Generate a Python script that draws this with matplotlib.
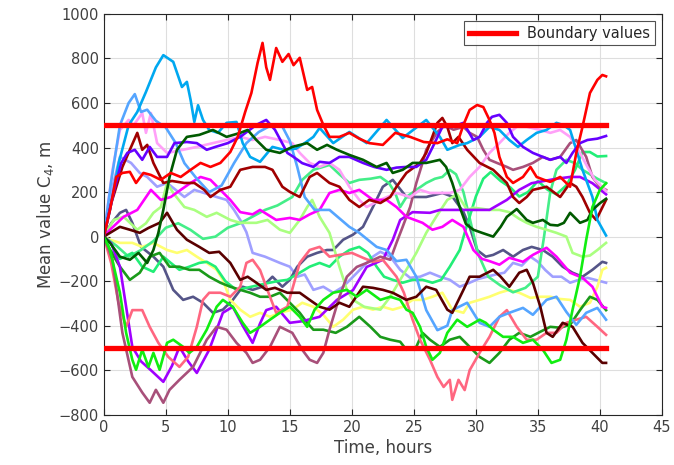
import matplotlib
matplotlib.use("Agg")
import matplotlib.pyplot as plt

# (time in hours, mean value C4 in m) for each run
sky_blue = [(0, 0), (0.5, 120), (1.2, 330), (2, 500), (2.7, 560), (3.4, 650), (4.2, 760), (4.8, 815), (5.6, 785),
            (6.3, 672), (6.7, 695), (7, 614), (7.3, 515), (7.6, 590), (8, 524), (8.5, 479), (9.2, 466), (9.9, 511),
            (10.7, 515), (11.2, 420), (11.8, 358), (12.6, 336), (13.6, 403), (14.5, 390), (15.5, 395), (16.2, 420),
            (16.9, 448), (17.4, 488), (18.5, 420), (19.8, 470), (21.2, 420), (22.8, 524), (24.1, 443), (26, 524),
            (27.1, 448), (27.7, 390), (28.7, 412), (29.3, 420), (30.3, 448), (31.1, 493), (31.9, 479), (32.7, 434),
            (33.4, 403), (34.1, 434), (34.9, 466), (35.7, 479), (36.5, 511), (37.1, 500), (37.6, 479), (38.1, 390),
            (38.6, 300), (39.4, 178), (39.8, 75), (40.5, 5)]

cornflower = [(0, 0), (0.6, 250), (1.3, 500), (2, 600), (2.5, 640), (3, 560), (3.5, 570), (4.2, 520), (5, 490),
              (5.8, 420), (6.5, 330), (7.5, 260), (8.5, 200), (9.5, 230), (10.5, 330), (11.5, 420), (12.5, 470),
              (13.5, 500), (14.3, 505), (15, 430), (15.6, 313), (16.2, 178), (17, 120), (18.2, 120), (19.8, 44),
              (20.6, 17), (22, -46), (22.8, -60), (23.6, -110), (24.4, -104), (25.2, -180), (26, -330), (26.9, -420),
              (27.7, -400), (28.1, -330), (29.3, -297), (30.3, -387), (31.1, -405), (31.9, -360), (32.7, -342),
              (33.8, -320), (34.6, -351), (35.7, -284), (36.5, -270), (37.3, -338), (38.1, -396), (38.9, -342),
              (39.8, -320), (40.5, -373)]

violet = [(0, 0), (0.8, 200), (1.4, 330), (1.9, 376), (2.5, 390), (3.1, 345), (3.7, 403), (4.3, 358), (5.1, 358),
          (5.7, 420), (6.7, 425), (7.5, 420), (8.3, 390), (9, 403), (10, 420), (11, 448), (12.3, 502), (13.1, 524),
          (13.8, 480), (14.8, 376), (15.3, 358), (16, 330), (16.9, 313), (17.4, 336), (18.2, 331), (19, 358),
          (19.8, 358), (20.9, 331), (21.8, 313), (22.8, 300), (23.6, 310), (24.4, 313), (25.2, 313), (26, 345),
          (26.5, 400), (27.3, 493), (28.1, 493), (29, 511), (29.8, 434), (30.3, 448), (30.9, 511), (31.3, 538),
          (31.9, 547), (32.5, 511), (33, 448), (33.8, 403), (34.6, 376), (35.4, 358), (36, 345), (36.8, 358),
          (37.3, 331), (37.8, 376), (38.4, 420), (39, 434), (39.8, 440), (40.5, 452)]

purple = [(0, 0), (0.6, -30), (1.3, -135), (2.3, -495), (3, -560), (3.8, -600), (4.8, -652), (5.5, -580),
          (6.1, -495), (6.8, -560), (7.5, -612), (8.5, -508), (9.6, -342), (10.4, -315), (11.2, -400), (12, -477),
          (12.6, -390), (13.1, -330), (13.9, -315), (15, -387), (16, -380), (17.4, -360), (18.8, -284), (20.1, -240),
          (21.2, -136), (22.5, -104), (23.3, -15), (23.9, 75), (24.9, 110), (26.3, 107), (27.1, 120), (28.7, 120),
          (30, 120), (31.1, 120), (32.5, 165), (33.5, 210), (34.5, 240), (35.5, 250), (36.5, 260), (37.6, 268),
          (38.4, 268), (39.4, 240), (40.5, 190)]

magenta = [(0, 0), (0.5, 31), (1.6, 89), (2.7, 120), (3.8, 210), (4.6, 165), (5.4, 178), (6.2, 210), (7, 241),
           (7.8, 268), (8.6, 255), (9.4, 210), (10.2, 165), (11, 110), (12, 100), (12.6, 120), (13.9, 75), (15, 84),
           (15.8, 75), (16.6, 100), (17.4, 120), (18.2, 196), (19, 210), (19.8, 196), (20.6, 210), (21.7, 165),
           (22.8, 165), (23.6, 133), (24.4, 89), (25.7, 62), (26.5, 31), (27.3, 44), (28.1, 75), (29, 44),
           (29.8, -60), (30.5, -100), (31.1, -110), (31.9, -126), (32.7, -95), (33.8, -113), (34.6, -82),
           (35.7, -50), (36.5, -90), (37.6, -162), (38.6, -185), (39.4, -225), (40.2, -315), (40.5, -320)]

light_pink = [(0, 0), (0.7, 300), (1.3, 479), (2, 524), (2.4, 500), (3.1, 555), (3.4, 466), (3.8, 555), (4.3, 420),
              (5.1, 376), (6.4, 390), (7.5, 403), (8.8, 420), (9.9, 434), (11, 448), (12, 434), (13, 448),
              (14.2, 434), (15.2, 420), (15.8, 376), (16.6, 331), (17.4, 313), (18.2, 331), (19, 300), (19.8, 224),
              (20.6, 165), (21.2, 133), (22.3, 165), (23.6, 196), (24.7, 178), (25.5, 210), (26.3, 196),
              (27.9, 196), (28.7, 210), (29.5, 268), (30.3, 313), (31.1, 376), (31.9, 420), (32.7, 466), (33.3, 493),
              (34.1, 493), (35.2, 479), (36, 466), (36.8, 479), (37.6, 448), (38.4, 376), (39, 313), (39.6, 255),
              (40.5, 205)]

rose = [(0, 0), (0.6, -120), (1.2, -300), (1.8, -405), (2.3, -330), (3.1, -330), (3.7, -405), (4.4, -477),
        (5.2, -540), (6.1, -585), (6.8, -540), (7.5, -405), (8, -284), (8.5, -252), (9.4, -252), (10.2, -270),
        (11, -225), (11.5, -118), (12, -104), (12.6, -150), (13.4, -270), (13.9, -342), (14.8, -315), (15.8, -118),
        (16.6, -60), (17.4, -46), (18.2, -90), (19, -82), (20, -73), (20.9, -95), (21.7, -113), (22.5, -104),
        (23.6, -180), (24.2, -252), (24.9, -373), (25.5, -463), (26.3, -553), (26.9, -630), (27.4, -675),
        (27.9, -643), (28.1, -733), (28.6, -643), (29.1, -689), (29.5, -600), (30.3, -522), (31.1, -450),
        (31.9, -360), (32.5, -330), (33.3, -405), (34.1, -463), (34.9, -463), (35.7, -432), (36.5, -432),
        (37.3, -387), (38.1, -373), (38.9, -360), (39.8, -405), (40.5, -441)]

mauve = [(0, 0), (0.7, -104), (1.5, -432), (2.3, -630), (3.1, -700), (3.7, -746), (4.2, -688), (4.8, -746),
         (5.3, -688), (6.1, -643), (7.2, -585), (8.3, -463), (9.1, -405), (9.9, -418), (10.7, -477), (11.5, -522),
         (12, -567), (12.6, -553), (13.4, -495), (14.2, -405), (15.2, -432), (16, -508), (16.6, -553),
         (17.2, -567), (17.7, -522), (18.2, -418), (19, -270), (19.6, -180), (20.4, -136), (21.2, -118),
         (22.3, -90), (23.1, -104), (23.6, -28), (24.1, 44), (24.7, 133), (25.2, 241), (25.7, 331), (26, 390),
         (26.9, 470), (27.5, 500), (28.2, 480), (29, 493), (29.5, 466), (30.1, 448), (30.6, 390), (31.1, 345),
         (31.7, 331), (32.5, 313), (33, 300), (33.8, 313), (34.6, 331), (35.4, 358), (36, 345), (36.8, 358),
         (37.6, 420), (38.1, 434), (38.9, 358), (39.4, 268), (40, 224), (40.5, 210)]

red = [(0, 0), (0.5, 120), (1, 268), (1.5, 286), (2.1, 291), (2.6, 241), (3.2, 286), (3.8, 277), (4.6, 255),
       (5.4, 286), (6.2, 268), (7, 300), (7.8, 331), (8.6, 313), (9.4, 331), (10.2, 380), (10.8, 448), (11.4, 560),
       (11.9, 645), (12.4, 780), (12.8, 870), (13.1, 760), (13.4, 704), (13.9, 847), (14.4, 785), (14.9, 820),
       (15.3, 770), (15.8, 803), (16.4, 659), (16.8, 672), (17.2, 569), (17.7, 502), (18.2, 448), (19, 448),
       (19.8, 466), (20.6, 440), (21.4, 420), (22.5, 412), (23.5, 466), (24.7, 448), (25.8, 425), (26.9, 420),
       (27.7, 437), (28.5, 420), (29, 502), (29.5, 569), (30.1, 591), (30.6, 582), (31.1, 524), (31.5, 466),
       (31.9, 358), (32.5, 268), (33, 241), (33.8, 268), (34.4, 313), (34.9, 268), (35.5, 255), (36, 246),
       (36.8, 268), (37.6, 224), (38.1, 376), (38.6, 493), (39.2, 645), (39.8, 704), (40.2, 726), (40.5, 720)]

maroon = [(0, 0), (0.6, 150), (1.5, 313), (2.1, 390), (2.7, 466), (3.1, 390), (3.5, 412), (4, 331), (4.8, 241),
          (5.5, 250), (6.5, 241), (7.3, 241), (8.1, 210), (8.6, 178), (9.4, 210), (10.2, 224), (11, 300), (12, 313),
          (13, 313), (13.6, 300), (14.4, 224), (15, 201), (15.8, 178), (16.6, 268), (17.2, 286), (18.2, 241),
          (19, 224), (19.8, 165), (20.6, 133), (21.4, 165), (22.3, 151), (23.1, 178), (23.6, 224), (24.4, 286),
          (25.5, 331), (26, 376), (26.5, 450), (26.9, 511), (27.3, 533), (27.7, 493), (28.1, 420), (28.6, 448),
          (29.3, 390), (30.3, 331), (31.4, 300), (32.5, 241), (33, 178), (33.5, 151), (34.1, 178), (34.6, 210),
          (35.7, 224), (36.8, 178), (37.6, 241), (38.1, 224), (38.6, 178), (39.2, 107), (39.7, 75), (40.1, 120),
          (40.5, 165)]

dark_brown = [(0, 0), (0.5, 17), (1.3, 44), (2.1, 31), (2.9, 17), (3.6, 39), (4.5, 62), (5.1, 107), (5.9, 31),
              (6.7, -14), (7.7, -46), (8.5, -73), (9.3, -68), (10.2, -118), (11, -194), (11.6, -180), (12.3, -207),
              (13.1, -239), (13.8, -230), (14.8, -252), (15.8, -252), (16.6, -284), (17.4, -315), (18.2, -328),
              (19, -297), (19.8, -315), (20.9, -225), (21.7, -230), (22.5, -239), (23.3, -252), (24.4, -284),
              (25.2, -270), (26, -225), (26.8, -239), (27.7, -328), (28.1, -342), (29, -239), (29.5, -180),
              (30.3, -180), (31.4, -149), (32, -180), (32.7, -225), (33.5, -162), (34.1, -149), (34.6, -207),
              (35.2, -315), (35.7, -432), (36.2, -450), (37, -387), (37.8, -405), (38.6, -477), (39.4, -522),
              (40.2, -567), (40.5, -567)]

dark_green = [(0, 0), (0.5, -28), (1.3, -90), (2.1, -104), (2.8, -73), (3.5, -118), (4, -60), (4.4, 17), (4.8, 120),
              (5.3, 268), (5.9, 390), (6.7, 448), (7.7, 457), (8.8, 479), (9.9, 448), (11, 466), (11.6, 479),
              (12.3, 434), (13.1, 390), (14.2, 376), (15.2, 403), (16.4, 420), (17.2, 390), (18, 412), (18.8, 390),
              (19.8, 367), (20.9, 345), (22, 313), (22.8, 331), (23.3, 286), (24.1, 300), (24.9, 331), (26, 331),
              (27.1, 345), (27.6, 313), (28.1, 241), (28.7, 133), (29.2, 57), (29.8, 31), (30.5, 17), (31.4, 0),
              (32, 44), (32.5, 89), (33.3, 124), (34.1, 75), (34.6, 62), (35.4, 75), (36, 53), (36.6, 50),
              (37.1, 62), (37.6, 107), (38.4, 62), (39, 75), (39.4, 120), (40, 150), (40.5, 170)]

mid_green = [(0, 0), (0.5, -60), (1.3, -135), (2.1, -194), (2.9, -162), (3.7, -90), (4.5, -73), (5.3, -135),
             (6.1, -135), (6.9, -149), (7.7, -149), (8.5, -180), (9.4, -207), (10.2, -225), (11, -239), (11.8, -252),
             (12.6, -270), (13.4, -270), (14.2, -252), (15, -297), (15.8, -342), (16.4, -387), (16.9, -418),
             (17.7, -418), (18.7, -432), (19.6, -405), (20.6, -360), (21.5, -405), (22.3, -450), (23.1, -463),
             (23.9, -472), (24.4, -508), (25.2, -495), (25.7, -432), (26.3, -463), (27.1, -495), (27.9, -463),
             (28.7, -450), (29.5, -495), (30.3, -540), (31.1, -567), (31.9, -522), (32.7, -463), (33.5, -432),
             (34.4, -450), (35.2, -427), (36, -405), (36.8, -409), (37.6, -396), (38.4, -330), (39.2, -270),
             (39.8, -284), (40.5, -330)]

bright_green = [(0, 0), (0.5, -60), (1.3, -252), (1.8, -432), (2.3, -553), (2.6, -598), (3.1, -508), (3.6, -585),
                (4, -522), (4.5, -598), (5.1, -477), (5.6, -463), (6.4, -495), (6.9, -522), (7.5, -495), (8.3, -418),
                (9.1, -315), (9.6, -284), (10.4, -315), (11.2, -387), (11.8, -432), (12.6, -405), (13.4, -373),
                (14.2, -342), (15, -315), (15.8, -360), (16.4, -405), (17, -328), (17.7, -284), (18.5, -252),
                (19.6, -239), (20.4, -270), (21.2, -239), (22.3, -284), (23.1, -270), (23.9, -284), (24.4, -328),
                (24.9, -342), (25.5, -405), (26, -495), (26.5, -553), (27.1, -522), (27.7, -432), (28.5, -373),
                (29.3, -405), (30.3, -373), (30.8, -387), (31.4, -418), (32.2, -450), (33, -450), (33.8, -477),
                (34.6, -463), (35.4, -508), (36.1, -567), (36.8, -553), (37.3, -463), (37.8, -328), (38.4, -180),
                (38.9, -14), (39.4, 133), (40, 210), (40.5, 240)]

pale_green = [(0, 0), (0.8, 75), (1.6, 89), (2.7, 31), (3.4, 60), (4, 107), (4.6, 133), (5.1, 241), (5.6, 196),
              (6.5, 133), (7.3, 120), (8.3, 89), (9.1, 107), (10.2, 75), (11, 62), (12.3, 62), (13.2, 75),
              (14.2, 31), (15, 17), (15.8, 75), (16.4, 133), (16.8, 165), (17.4, 89), (18.2, 17), (19, -135),
              (19.6, -239), (20.1, -284), (21, -315), (22.3, -328), (23.1, -270), (23.9, -194), (24.6, -130),
              (25.2, -73), (26, 17), (26.8, 89), (27.7, 165), (28.5, 190), (29.3, 120), (29.8, 130), (30.5, 125),
              (31.1, 120), (31.9, 120), (32.7, 110), (33.5, 80), (34.1, 62), (34.9, 44), (35.7, 31), (36.5, 17),
              (37.3, 0), (37.8, -73), (38.6, -90), (39.2, -85), (39.8, -60), (40.5, -28)]

mint_low = [(0, 0), (0.5, -60), (1.3, -100), (2.3, -73), (3.1, -135), (4, -158), (4.8, -90), (5.4, -118),
            (6.1, -149), (6.9, -135), (7.7, -118), (8.3, -113), (9, -135), (9.8, -200), (10.7, -240), (11.5, -230),
            (12.3, -220), (13.1, -210), (14, -200), (14.8, -194), (15.8, -162), (16.6, -135), (17.4, -118),
            (18.2, -135), (19, -90), (19.8, -60), (20.6, -46), (21.3, -73), (22, -135), (22.6, -180), (23.3, -194),
            (24.1, -207), (24.9, -194), (25.7, -194), (26.5, -207), (27.2, -194), (27.9, -135), (28.7, -60),
            (29.1, 17), (29.5, 89), (30, 180), (30.6, 260), (31.2, 290), (32, 250), (32.8, 220), (33.5, 180),
            (34.2, 200), (35, 250), (35.8, 210), (36.5, 190), (37.3, 230), (38, 300), (38.6, 380), (39.2, 380),
            (39.8, 360), (40.5, 362)]

mint_high = [(0, 0), (1, -40), (2, -90), (3, -60), (4, -20), (5, 40), (6, 60), (7, 30), (8, -10), (9, 0), (10, 40),
             (11, 60), (12, 90), (13, 120), (14, 140), (15.2, 178), (16, 255), (16.9, 300), (18.2, 322), (19, 280),
             (19.8, 241), (20.6, 255), (21.5, 260), (22.3, 268), (23, 240), (23.5, 196), (23.9, 133), (24.4, 178),
             (25.2, 210), (26, 241), (26.7, 260), (27.3, 268), (27.9, 300), (28.4, 280), (29, 200), (29.6, 60),
             (30.2, -80), (31, -180), (32, -220), (33, -250), (34, -230), (35, -180), (35.5, 0), (36, 200),
             (36.5, 300), (37.3, 345), (38, 330), (38.6, 300), (39.2, 280), (39.8, 260), (40.5, 240)]

yellow = [(0, 0), (0.5, -14), (1.3, -28), (2.3, -28), (3.1, -46), (4, -28), (5.1, -60), (5.9, -73), (6.7, -60),
          (7.5, -90), (8.3, -118), (9.1, -149), (9.6, -194), (10.2, -284), (11, -328), (11.8, -360), (12.6, -342),
          (13.4, -360), (14.2, -342), (15.2, -328), (16, -297), (16.9, -315), (17.7, -351), (18.5, -405),
          (19.3, -373), (20.1, -328), (20.9, -315), (21.7, -328), (22.5, -315), (23.3, -328), (24.1, -315),
          (24.9, -284), (25.7, -284), (26.5, -270), (27.3, -252), (28.1, -328), (29, -342), (29.5, -297),
          (30.3, -284), (31.1, -270), (31.9, -252), (32.7, -239), (33.5, -252), (34.4, -275), (35.2, -270),
          (36, -270), (36.8, -280), (37.6, -284), (38.4, -315), (39.2, -297), (39.8, -225), (40.2, -149),
          (40.5, -140)]

slate = [(0, 0), (0.6, 60), (1.3, 107), (1.8, 120), (2.3, 62), (3, -46), (4, -90), (4.8, -135), (5.6, -239),
         (6.4, -284), (7.2, -270), (8, -297), (8.8, -342), (9.6, -328), (10.4, -284), (11.2, -225), (12, -239),
         (12.8, -225), (13.6, -180), (14.4, -225), (15, -194), (15.6, -135), (16.4, -90), (17.2, -73), (18, -60),
         (18.5, -60), (19.3, -14), (20.1, 9), (20.9, 44), (21.7, 133), (22.5, 224), (23.3, 255), (24.4, 178),
         (25.2, 178), (26, 178), (27.3, 196), (28.1, 180), (29, 111), (29.5, 44), (30.1, -60), (30.8, -90),
         (31.4, -82), (32.2, -60), (33, -90), (33.8, -60), (34.5, -46), (35.4, -60), (36.2, -90), (37, -135),
         (37.8, -162), (38.6, -180), (39.4, -149), (40.2, -113), (40.5, -118)]

lavender = [(0, 0), (0.6, 200), (1.3, 358), (2.2, 331), (2.9, 286), (3.5, 268), (4.3, 224), (5.1, 241), (5.8, 210),
            (6.5, 178), (7.3, 210), (8.1, 196), (9.1, 178), (9.9, 165), (10.5, 120), (11, 75), (11.5, 20),
            (12, -73), (13, -90), (14.2, -118), (15, -135), (15.6, -180), (16.2, -170), (16.9, -239), (17.7, -225),
            (18.5, -252), (19.3, -225), (20.1, -180), (20.9, -135), (21.7, -90), (22.3, -68), (23.1, -90),
            (23.9, -149), (24.7, -185), (25.5, -180), (26.3, -162), (27.1, -180), (27.9, -194), (28.7, -225),
            (29.5, -207), (30.2, -190), (30.9, -180), (31.6, -170), (32.3, -162), (33, -118), (33.7, -130),
            (34.4, -90), (35, -113), (35.6, -150), (36.2, -180), (36.9, -180), (37.6, -207), (38.3, -194),
            (39, -185), (39.7, -195), (40.5, -207)]

runs = [
    (lavender, "#a0a0ff"), (slate, "#555588"), (yellow, "#ffff70"), (mint_high, "#44ee88"),
    (mint_low, "#22ee77"), (pale_green, "#aaff80"), (mid_green, "#1a9a1a"), (purple, "#a000ff"),
    (rose, "#ff6680"), (mauve, "#a8507a"), (light_pink, "#ffa0f8"), (magenta, "#ff00ff"),
    (cornflower, "#55a5ff"), (dark_brown, "#5a0000"), (maroon, "#a00000"), (sky_blue, "#00a8f0"),
    (violet, "#6600ff"), (dark_green, "#005a00"), (bright_green, "#11ee11"), (red, "#ff0000"),
]

boundary_t = [0, 40.5]
upper_bound = 500
lower_bound = -500

fig = plt.figure(figsize=(6.74, 4.65), dpi=100)
ax = fig.add_axes([0.154, 0.108, 0.828, 0.862])

for points, color in runs:
    t, v = zip(*points)
    ax.plot(t, v, color=color, lw=1.9, solid_joinstyle="round")

ax.plot(boundary_t, [upper_bound] * 2, color="#ff0000", lw=3.8, label="Boundary values", zorder=5)
ax.plot(boundary_t, [lower_bound] * 2, color="#ff0000", lw=3.8, zorder=5)

ax.set_xlim(0, 45)
ax.set_ylim(-800, 1000)
ax.set_xticks(range(0, 46, 5))
ax.set_yticks(range(-800, 1001, 200))
ax.grid(True, color="#dedede", lw=0.8)
ax.set_axisbelow(True)
ax.tick_params(direction="in", top=True, right=True, length=4, width=0.8,
               labelsize=10.5, colors="#262626", labelcolor="#404040")
for s in ax.spines.values():
    s.set_color("#262626")
    s.set_linewidth(0.8)

ax.set_xlabel("Time, hours", fontsize=12, color="#404040", labelpad=3)
ax.set_ylabel("Mean value C$_4$, m", fontsize=12, color="#404040", labelpad=2)

leg = ax.legend(loc="upper right", fontsize=10.5, frameon=True, fancybox=False,
                borderaxespad=0.5, handlelength=3.2, borderpad=0.3)
leg.get_frame().set_edgecolor("#262626")
leg.get_frame().set_linewidth(0.8)
for txt in leg.get_texts():
    txt.set_color("#262626")

fig.savefig("out.png", dpi=100)
